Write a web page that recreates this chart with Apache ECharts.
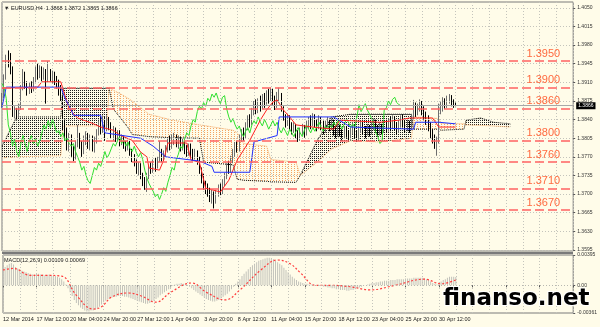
<!DOCTYPE html>
<html><head><meta charset="utf-8">
<script src="https://cdn.jsdelivr.net/npm/echarts@6/dist/echarts.min.js"></script>
<style>html,body{margin:0;padding:0;background:#fffce9;}#c{width:600px;height:327px;}</style>
</head><body><div id="c"></div>
<script>
// ---------- data ----------
const tickLabels = ["12 Mar 2014","17 Mar 12:00","20 Mar 04:00","24 Mar 20:00","27 Mar 12:00","1 Apr 04:00","3 Apr 20:00","8 Apr 12:00","11 Apr 04:00","15 Apr 20:00","18 Apr 12:00","23 Apr 04:00","25 Apr 20:00","30 Apr 12:00"];
const priceTicks = [1.4050,1.4015,1.3980,1.3945,1.3910,1.3875,1.3840,1.3805,1.3770,1.3735,1.3700,1.3665,1.3630,1.3595];
const levels = [1.3950,1.3900,1.3860,1.3800,1.3760,1.3710,1.3670];
const lastPrice = 1.3866;
const macdTicks = [-0.00361, 0, 0.00395];
const slotCount = 273;
// [open, close, low, high]
const candles = [
[1.3870,1.3885,1.3862,1.3890],[1.3885,1.3920,1.3880,1.3925],[1.3920,1.3955,1.3915,1.3962],[1.3955,1.3948,1.3938,1.3970],[1.3948,1.3935,1.3925,1.3965],
[1.3935,1.3850,1.3845,1.3940],[1.3850,1.3858,1.3842,1.3865],[1.3858,1.3848,1.3840,1.3862],[1.3848,1.3862,1.3843,1.3870],[1.3862,1.3900,1.3858,1.3905],
[1.3900,1.3925,1.3895,1.3935],[1.3925,1.3905,1.3898,1.3930],[1.3905,1.3895,1.3885,1.3912],[1.3895,1.3905,1.3888,1.3910],[1.3905,1.3898,1.3890,1.3912],
[1.3898,1.3915,1.3893,1.3920],[1.3915,1.3930,1.3910,1.3940],[1.3930,1.3925,1.3915,1.3945],[1.3925,1.3935,1.3918,1.3942],[1.3935,1.3922,1.3912,1.3940],
[1.3922,1.3930,1.3915,1.3938],[1.3930,1.3918,1.3870,1.3935],[1.3918,1.3928,1.3910,1.3950],[1.3928,1.3920,1.3912,1.3935],[1.3920,1.3925,1.3908,1.3932],
[1.3925,1.3915,1.3905,1.3930],[1.3915,1.3908,1.3898,1.3922],[1.3908,1.3900,1.3885,1.3915],[1.3900,1.3880,1.3875,1.3905],[1.3880,1.3830,1.3820,1.3885],
[1.3830,1.3815,1.3800,1.3840],[1.3815,1.3790,1.3782,1.3825],[1.3790,1.3805,1.3780,1.3815],[1.3805,1.3780,1.3770,1.3812],[1.3780,1.3770,1.3762,1.3790],
[1.3770,1.3795,1.3765,1.3800],[1.3795,1.3810,1.3788,1.3830],[1.3810,1.3795,1.3785,1.3815],[1.3795,1.3780,1.3770,1.3800],[1.3780,1.3800,1.3775,1.3810],
[1.3800,1.3810,1.3792,1.3818],[1.3810,1.3795,1.3785,1.3815],[1.3795,1.3805,1.3782,1.3812],[1.3805,1.3790,1.3780,1.3810],[1.3790,1.3800,1.3778,1.3808],
[1.3800,1.3815,1.3795,1.3822],[1.3815,1.3830,1.3810,1.3838],[1.3830,1.3822,1.3812,1.3845],[1.3822,1.3838,1.3815,1.3848],[1.3838,1.3825,1.3800,1.3845],
[1.3825,1.3840,1.3818,1.3848],[1.3840,1.3830,1.3820,1.3845],[1.3830,1.3815,1.3805,1.3835],[1.3815,1.3820,1.3800,1.3828],[1.3820,1.3808,1.3798,1.3825],
[1.3808,1.3815,1.3800,1.3820],[1.3815,1.3800,1.3790,1.3820],[1.3800,1.3805,1.3792,1.3812],[1.3805,1.3795,1.3785,1.3810],[1.3795,1.3790,1.3780,1.3800],
[1.3790,1.3795,1.3782,1.3802],[1.3795,1.3780,1.3772,1.3800],[1.3780,1.3770,1.3760,1.3785],[1.3770,1.3760,1.3752,1.3775],[1.3760,1.3745,1.3738,1.3765],
[1.3745,1.3752,1.3735,1.3760],[1.3752,1.3735,1.3728,1.3758],[1.3735,1.3725,1.3715,1.3740],[1.3725,1.3720,1.3708,1.3732],[1.3720,1.3735,1.3704,1.3740],
[1.3735,1.3750,1.3728,1.3755],[1.3750,1.3745,1.3738,1.3760],[1.3745,1.3758,1.3740,1.3765],[1.3758,1.3752,1.3742,1.3768],[1.3752,1.3765,1.3748,1.3770],
[1.3765,1.3780,1.3760,1.3800],[1.3780,1.3768,1.3760,1.3785],[1.3768,1.3775,1.3762,1.3782],[1.3775,1.3785,1.3770,1.3792],[1.3785,1.3795,1.3778,1.3805],
[1.3795,1.3790,1.3782,1.3810],[1.3790,1.3800,1.3785,1.3812],[1.3800,1.3808,1.3792,1.3815],[1.3808,1.3795,1.3788,1.3812],[1.3795,1.3802,1.3785,1.3810],
[1.3802,1.3790,1.3780,1.3808],[1.3790,1.3798,1.3782,1.3805],[1.3798,1.3785,1.3775,1.3800],[1.3785,1.3780,1.3770,1.3792],[1.3780,1.3790,1.3772,1.3795],
[1.3790,1.3778,1.3768,1.3795],[1.3778,1.3770,1.3762,1.3785],[1.3770,1.3778,1.3765,1.3785],[1.3778,1.3765,1.3755,1.3782],[1.3765,1.3745,1.3738,1.3770],
[1.3745,1.3730,1.3720,1.3750],[1.3730,1.3720,1.3708,1.3738],[1.3720,1.3712,1.3700,1.3725],[1.3712,1.3705,1.3695,1.3720],[1.3705,1.3695,1.3685,1.3712],
[1.3695,1.3700,1.3682,1.3708],[1.3700,1.3690,1.3673,1.3705],[1.3690,1.3700,1.3682,1.3708],[1.3700,1.3712,1.3695,1.3718],[1.3712,1.3705,1.3698,1.3720],
[1.3705,1.3722,1.3700,1.3728],[1.3722,1.3735,1.3715,1.3740],[1.3735,1.3750,1.3728,1.3758],[1.3750,1.3745,1.3738,1.3762],[1.3745,1.3765,1.3740,1.3772],
[1.3765,1.3775,1.3758,1.3785],[1.3775,1.3790,1.3770,1.3798],[1.3790,1.3785,1.3778,1.3800],[1.3785,1.3805,1.3780,1.3812],[1.3805,1.3815,1.3798,1.3822],
[1.3815,1.3810,1.3800,1.3825],[1.3810,1.3828,1.3805,1.3835],[1.3828,1.3840,1.3820,1.3848],[1.3840,1.3835,1.3825,1.3850],[1.3835,1.3855,1.3830,1.3862],
[1.3855,1.3865,1.3848,1.3875],[1.3865,1.3860,1.3850,1.3878],[1.3860,1.3872,1.3852,1.3880],[1.3872,1.3865,1.3855,1.3885],[1.3865,1.3880,1.3860,1.3888],
[1.3880,1.3875,1.3862,1.3890],[1.3875,1.3888,1.3868,1.3895],[1.3888,1.3882,1.3870,1.3898],[1.3882,1.3890,1.3875,1.3900],[1.3890,1.3878,1.3868,1.3898],
[1.3878,1.3870,1.3858,1.3885],[1.3870,1.3882,1.3862,1.3892],[1.3882,1.3885,1.3872,1.3900],[1.3885,1.3860,1.3855,1.3890],[1.3860,1.3845,1.3838,1.3865],
[1.3845,1.3835,1.3825,1.3850],[1.3835,1.3842,1.3828,1.3850],[1.3842,1.3830,1.3820,1.3848],[1.3830,1.3822,1.3812,1.3835],[1.3822,1.3828,1.3815,1.3835],
[1.3828,1.3815,1.3805,1.3832],[1.3815,1.3808,1.3798,1.3820],[1.3808,1.3818,1.3800,1.3825],[1.3818,1.3825,1.3810,1.3832],[1.3825,1.3815,1.3806,1.3830],
[1.3815,1.3830,1.3810,1.3838],[1.3830,1.3838,1.3822,1.3845],[1.3838,1.3832,1.3822,1.3848],[1.3832,1.3845,1.3828,1.3852],[1.3845,1.3835,1.3825,1.3850],
[1.3835,1.3828,1.3818,1.3840],[1.3828,1.3840,1.3822,1.3848],[1.3840,1.3832,1.3820,1.3845],[1.3832,1.3822,1.3812,1.3838],[1.3822,1.3830,1.3815,1.3838],
[1.3830,1.3838,1.3825,1.3845],[1.3838,1.3828,1.3818,1.3842],[1.3828,1.3835,1.3820,1.3842],[1.3835,1.3822,1.3810,1.3840],[1.3822,1.3815,1.3805,1.3828],
[1.3815,1.3825,1.3808,1.3832],[1.3825,1.3818,1.3808,1.3830],[1.3818,1.3810,1.3800,1.3822],[1.3810,1.3822,1.3805,1.3828],[1.3822,1.3815,1.3806,1.3828],
[1.3815,1.3808,1.3798,1.3820],[1.3808,1.3818,1.3802,1.3825],[1.3818,1.3825,1.3812,1.3835],[1.3825,1.3815,1.3805,1.3830],[1.3815,1.3808,1.3798,1.3820],
[1.3808,1.3820,1.3802,1.3828],[1.3820,1.3830,1.3815,1.3838],[1.3830,1.3822,1.3812,1.3835],[1.3822,1.3815,1.3805,1.3828],[1.3815,1.3825,1.3810,1.3832],
[1.3825,1.3818,1.3808,1.3830],[1.3818,1.3828,1.3812,1.3835],[1.3828,1.3835,1.3820,1.3842],[1.3835,1.3825,1.3815,1.3840],[1.3825,1.3818,1.3808,1.3830],
[1.3818,1.3828,1.3810,1.3835],[1.3828,1.3822,1.3812,1.3832],[1.3822,1.3830,1.3815,1.3838],[1.3830,1.3825,1.3815,1.3840],[1.3825,1.3835,1.3818,1.3842],
[1.3835,1.3828,1.3818,1.3845],[1.3828,1.3838,1.3822,1.3848],[1.3838,1.3830,1.3820,1.3845],[1.3830,1.3822,1.3812,1.3835],[1.3822,1.3832,1.3815,1.3840],
[1.3832,1.3840,1.3825,1.3848],[1.3840,1.3835,1.3825,1.3850],[1.3835,1.3825,1.3815,1.3840],[1.3825,1.3832,1.3818,1.3840],[1.3832,1.3825,1.3815,1.3838],
[1.3825,1.3845,1.3820,1.3850],[1.3845,1.3868,1.3840,1.3877],[1.3868,1.3855,1.3845,1.3872],[1.3855,1.3862,1.3848,1.3870],[1.3862,1.3870,1.3855,1.3878],
[1.3870,1.3858,1.3848,1.3875],[1.3858,1.3850,1.3840,1.3865],[1.3850,1.3842,1.3830,1.3855],[1.3842,1.3830,1.3818,1.3848],[1.3830,1.3815,1.3805,1.3835],
[1.3815,1.3808,1.3795,1.3822],[1.3808,1.3795,1.3785,1.3812],[1.3795,1.3800,1.3772,1.3808],[1.3800,1.3858,1.3795,1.3870],[1.3858,1.3862,1.3850,1.3875],
[1.3862,1.3875,1.3855,1.3882],[1.3875,1.3868,1.3860,1.3880],[1.3868,1.3878,1.3862,1.3885],[1.3878,1.3882,1.3870,1.3888],[1.3882,1.3872,1.3865,1.3886],
[1.3872,1.3868,1.3862,1.3878],[1.3868,1.3866,1.3865,1.3872]
];
// Ichimoku lines: [bar index, price]
const tenkan = [[0,1.3899],[17,1.3901],[19,1.3911],[28,1.3911],[30,1.3885],[32,1.3860],[36,1.3843],[43,1.3833],[47,1.3826],[53,1.3820],[56,1.3811],[62,1.3801],[66,1.3779],[69,1.3770],[70,1.3749],[75,1.3745],[77,1.3764],[79,1.3796],[88,1.3796],[90,1.3764],[94,1.3760],[97,1.3711],[104,1.3704],[108,1.3726],[112,1.3764],[118,1.3801],[123,1.3839],[126,1.3858],[129,1.3873],[131,1.3877],[134,1.3858],[137,1.3845],[140,1.3830],[150,1.3825],[158,1.3822],[161,1.3839],[170,1.3837],[180,1.3835],[189,1.3839],[194,1.3843],[205,1.3843],[208,1.3826],[216,1.3826]];
const kijun = [[0,1.3863],[2,1.3901],[28,1.3901],[30,1.3880],[33,1.3858],[34,1.3848],[47,1.3848],[49,1.3815],[66,1.3805],[72,1.3790],[78,1.3770],[94,1.3762],[100,1.3752],[101,1.3741],[118,1.3741],[120,1.3798],[131,1.3810],[132,1.3845],[158,1.3845],[166,1.3826],[196,1.3822],[197,1.3835],[208,1.3835],[216,1.3832]];
const cloudIdx = [0,7,28,29,50,51,53,58,60,62,70,80,94,96,110,112,115,126,128,140,142,150,157,166,180,195,196,208,209,220,221,228,234,242];
const senkouA  = [1.3768,1.3770,1.3772,1.3828,1.3828,1.3901,1.3895,1.3885,1.3880,1.3875,1.3850,1.3840,1.3830,1.3829,1.3820,1.3815,1.3795,1.3790,1.3765,1.3760,1.3735,1.3760,1.3785,1.3800,1.3798,1.3805,1.3845,1.3842,1.3833,1.3832,1.3830,1.3829,1.3828,1.3826];
const senkouB  = [1.3790,1.3845,1.3845,1.3899,1.3899,1.3899,1.3860,1.3835,1.3825,1.3812,1.3808,1.3806,1.3805,1.3760,1.3755,1.3728,1.3726,1.3724,1.3723,1.3722,1.3735,1.3800,1.3845,1.3850,1.3850,1.3850,1.3822,1.3822,1.3820,1.3822,1.3839,1.3843,1.3835,1.3832];
const macdHist = [
0.0022,0.0024,0.0026,0.0028,0.0029,0.0027,0.0024,0.0022,0.0021,0.0019,
0.0018,0.0017,0.0016,0.0015,0.0014,0.0014,0.0015,0.0015,0.0014,0.0014,
0.0013,0.0013,0.0014,0.0013,0.0012,0.0012,0.0011,0.0010,0.0008,0.0005,
0.0001,-0.0004,-0.0009,-0.0014,-0.0019,-0.0023,-0.0026,-0.0029,-0.0031,-0.0033,
-0.0034,-0.0034,-0.0033,-0.0033,-0.0032,-0.0030,-0.0028,-0.0025,-0.0022,-0.0020,
-0.0018,-0.0017,-0.0016,-0.0015,-0.0015,-0.0014,-0.0014,-0.0014,-0.0015,-0.0015,
-0.0016,-0.0017,-0.0018,-0.0019,-0.0020,-0.0021,-0.0022,-0.0023,-0.0024,-0.0024,
-0.0023,-0.0022,-0.0020,-0.0018,-0.0016,-0.0013,-0.0011,-0.0009,-0.0007,-0.0005,
-0.0003,-0.0001,0.0001,0.0002,0.0002,0.0003,0.0002,0.0001,0.0000,-0.0002,
-0.0004,-0.0006,-0.0008,-0.0010,-0.0012,-0.0014,-0.0016,-0.0018,-0.0019,-0.0020,
-0.0021,-0.0021,-0.0020,-0.0019,-0.0017,-0.0015,-0.0013,-0.0011,-0.0008,-0.0005,
-0.0002,0.0002,0.0005,0.0008,0.0012,0.0015,0.0018,0.0021,0.0024,0.0026,
0.0028,0.0030,0.0032,0.0033,0.0034,0.0035,0.0036,0.0036,0.0035,0.0034,
0.0032,0.0030,0.0028,0.0026,0.0023,0.0020,0.0017,0.0014,0.0011,0.0009,
0.0007,0.0005,0.0004,0.0003,0.0002,0.0002,0.0001,0.0001,0.0001,0.0000,
0.0000,-0.0001,-0.0001,-0.0002,-0.0002,-0.0003,-0.0003,-0.0004,-0.0004,-0.0005,
-0.0005,-0.0006,-0.0006,-0.0006,-0.0007,-0.0007,-0.0006,-0.0006,-0.0005,-0.0004,
-0.0003,-0.0002,-0.0001,0.0000,0.0001,0.0002,0.0003,0.0003,0.0004,0.0004,
0.0005,0.0005,0.0006,0.0006,0.0006,0.0007,0.0007,0.0007,0.0008,0.0008,
0.0008,0.0008,0.0009,0.0009,0.0009,0.0009,0.0010,0.0010,0.0010,0.0010,
0.0010,0.0009,0.0008,0.0007,0.0005,0.0003,0.0002,0.0001,0.0003,0.0005,
0.0007,0.0008,0.0010,0.0011,0.0011,0.0011,0.00109
];
const macdSignal = [[0,0.0020],[5,0.0022],[13,0.0013],[20,0.0013],[28,0.0012],[35,-0.0013],[43,-0.0031],[47,-0.0028],[52,-0.0015],[60,-0.0010],[66,-0.0014],[73,-0.0022],[80,-0.0009],[90,0.0003],[97,-0.0009],[106,-0.0019],[113,-0.0006],[123,0.0020],[131,0.0033],[137,0.0028],[142,0.0016],[149,0.0000],[156,0.0000],[166,-0.0002],[175,-0.0006],[187,0.0000],[201,0.0008],[209,0.0002],[216,0.00069]];

// ---------- build ----------
const slots = Array.from({length: slotCount}, (_, i) => String(i));
const chikou = candles.slice(26).map(c => c[1]);
function dotCanvas(color, w, h) {
  const c = document.createElement('canvas'); c.width = w; c.height = h;
  const g = c.getContext('2d'); g.fillStyle = color; g.fillRect(0, 0, 1, 1); return c;
}
const patBlack = {image: dotCanvas('#1a1a1a', 2, 2), repeat: 'repeat'};
const patOrange = {image: dotCanvas('#f4a460', 3, 2), repeat: 'repeat'};
const cloudSegs = [];
for (let k = 0; k < cloudIdx.length - 1; k++) {
  cloudSegs.push([cloudIdx[k], senkouA[k], senkouB[k], cloudIdx[k+1], senkouA[k+1], senkouB[k+1]]);
}
const zip = (idx, arr) => idx.map((x, k) => [x, arr[k]]);
const FONT = 'Liberation Sans';
const levelColor = '#ff6a40';

const levelLines = [];
levels.forEach(v => {
  levelLines.push({yAxis: v, lineStyle: {color: '#ff6262', width: 1.5, type: [9, 4]},
    label: {show: true, position: 'insideEndTop', distance: [13, 2], formatter: v.toFixed(4), color: levelColor, fontSize: 11, fontFamily: FONT}});
  levelLines.push({yAxis: v, lineStyle: {opacity: 0},
    label: {show: true, position: 'end', distance: 3, formatter: v.toFixed(4), color: '#fff', backgroundColor: '#ff1414', fontSize: 5, padding: [1, 2], fontFamily: FONT}});
});
levelLines.push({yAxis: lastPrice, lineStyle: {color: '#a8a8a8', width: 1, type: 'solid'},
  label: {show: true, position: 'end', distance: 3, formatter: lastPrice.toFixed(4), color: '#fff', backgroundColor: '#000', fontSize: 5, padding: [1, 2], fontFamily: FONT}});

const chart = echarts.init(document.getElementById('c'), null, {renderer: 'canvas'});
chart.setOption({
  animation: false,
  backgroundColor: '#fffce9',
  grid: [
    {left: 2, top: 2, width: 571.2, height: 249, show: true, borderColor: '#7a7a7a', borderWidth: 1, backgroundColor: 'transparent'},
    {left: 2, top: 255, width: 571.2, height: 58, show: true, borderColor: '#7a7a7a', borderWidth: 1, backgroundColor: 'transparent'}
  ],
  xAxis: [
    {type: 'category', gridIndex: 0, data: slots, boundaryGap: false,
     axisLine: {show: false}, axisTick: {show: false}, axisLabel: {show: false},
     splitLine: {show: true, interval: 7, lineStyle: {color: '#c4c4bc', type: [1, 2], width: 1}}},
    {type: 'category', gridIndex: 1, data: slots, boundaryGap: false,
     axisLine: {show: false}, axisTick: {show: true, interval: 15, length: 2, lineStyle: {color: '#555'}},
     axisLabel: {show: true, interval: 15, align: 'left', margin: 3, fontSize: 5.5, color: '#222', fontFamily: FONT,
       formatter: (v, i) => tickLabels[i / 16] || ''},
     splitLine: {show: true, interval: 7, lineStyle: {color: '#c4c4bc', type: [1, 2], width: 1}}}
  ],
  yAxis: [
    {type: 'value', gridIndex: 0, position: 'right', min: 1.3593, max: 1.4061, scale: true,
     axisLine: {show: false}, splitLine: {show: false},
     axisTick: {show: true, length: 2, customValues: priceTicks, lineStyle: {color: '#555'}},
     axisLabel: {show: true, customValues: priceTicks, formatter: v => v.toFixed(4), fontSize: 5, color: '#333', margin: 4, fontFamily: FONT}},
    {type: 'value', gridIndex: 1, position: 'right', min: -0.00361, max: 0.00395,
     axisLine: {show: false}, splitLine: {show: false},
     axisTick: {show: true, length: 2, customValues: macdTicks, lineStyle: {color: '#555'}},
     axisLabel: {show: true, customValues: macdTicks, formatter: v => v === 0 ? '0.00' : v.toFixed(5), fontSize: 5, color: '#333', margin: 4, fontFamily: FONT}}
  ],
  series: [
    {type: 'custom', name: 'cloud', xAxisIndex: 0, yAxisIndex: 0, z: 1, silent: true,
     data: cloudSegs, encode: {x: 0, y: 1},
     renderItem: (params, api) => {
       const a0 = api.value(1), b0 = api.value(2), a1 = api.value(4), b1 = api.value(5);
       const p1 = api.coord([api.value(0), a0]), p2 = api.coord([api.value(3), a1]);
       const p3 = api.coord([api.value(3), b1]), p4 = api.coord([api.value(0), b0]);
       return {type: 'polygon', shape: {points: [p1, p2, p3, p4]}, style: {fill: (a0 + a1 >= b0 + b1) ? patOrange : patBlack}};
     },
     markLine: {silent: true, symbol: 'none', precision: 5, label: {show: false}, lineStyle: {color: '#c4c4bc', type: [1, 2], width: 1},
       data: priceTicks.map(v => ({yAxis: v}))}},
    {type: 'line', name: 'senkouA', data: zip(cloudIdx, senkouA), z: 2, showSymbol: false, silent: true,
     lineStyle: {color: '#f4a460', width: 1, type: [1, 1]}},
    {type: 'line', name: 'senkouB', data: zip(cloudIdx, senkouB), z: 2, showSymbol: false, silent: true,
     lineStyle: {color: '#000', width: 1, type: [1, 1]}},
    {type: 'candlestick', name: 'EURUSD', data: candles, z: 3, barWidth: 1.3,
     itemStyle: {color: '#d4d4cc', color0: '#000', borderColor: '#6e6e6e', borderColor0: '#000', borderWidth: 1}},
    {type: 'line', name: 'chikou', data: chikou, z: 4, showSymbol: false, silent: true,
     lineStyle: {color: '#2fe02f', width: 1}},
    {type: 'line', name: 'tenkan', data: tenkan, z: 4, showSymbol: false, silent: true,
     lineStyle: {color: '#ff2020', width: 1}},
    {type: 'line', name: 'kijun', data: kijun, z: 4, showSymbol: false, silent: true,
     lineStyle: {color: '#2030ff', width: 1},
     markLine: {silent: true, symbol: 'none', precision: 5, data: levelLines}},
    {type: 'bar', name: 'MACD', xAxisIndex: 1, yAxisIndex: 1, data: macdHist, barWidth: 1, z: 2,
     itemStyle: {color: '#c2c2ba'},
     markLine: {silent: true, symbol: 'none', precision: 6, label: {show: false}, lineStyle: {color: '#b8b8b0', type: [1, 2], width: 1},
       data: [{yAxis: 0}]}},
    {type: 'line', name: 'Signal', xAxisIndex: 1, yAxisIndex: 1, data: macdSignal, smooth: 0.4, z: 3, showSymbol: false,
     lineStyle: {color: '#ff3c3c', width: 1.2, type: [2, 2]}}
  ],
  graphic: [
    {type: 'rect', shape: {x: 2, y: 252, width: 571, height: 2}, style: {fill: '#7a7a7a'}, z: 10},
    {type: 'text', left: 4, top: 5, style: {text: '▼ EURUSD,H4  1.3868 1.3872 1.3865 1.3866', fontSize: 5.5, fill: '#222', fontFamily: FONT}, z: 10},
    {type: 'text', left: 4, top: 257, style: {text: 'MACD(12,26,9) 0.00109 0.00069', fontSize: 5.5, fill: '#222', fontFamily: FONT}, z: 10},
    {type: 'text', left: 442, top: 287, style: {text: 'finanso.net', fontSize: 23, fontWeight: 'bold', fill: '#000', fontFamily: 'DejaVu Sans', stroke: '#fff', lineWidth: 2}, z: 20}
  ]
});
</script></body></html>
